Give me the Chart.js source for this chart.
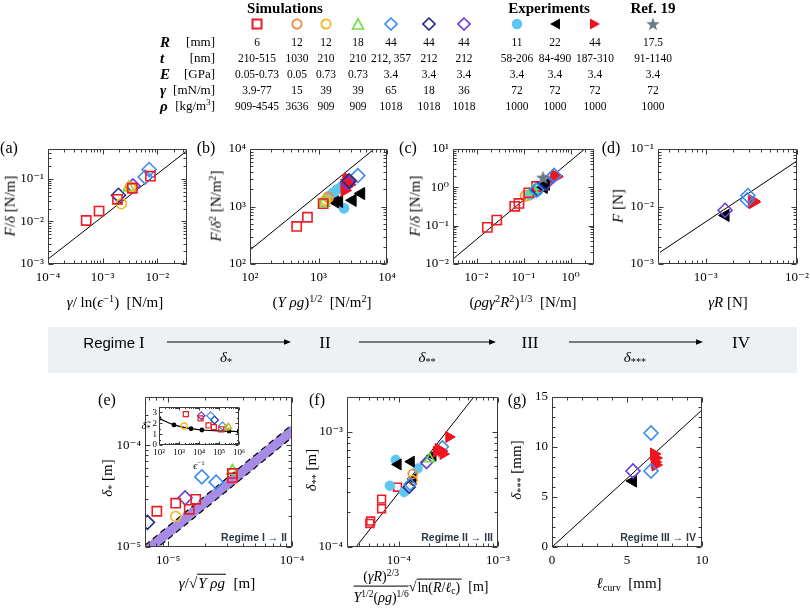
<!DOCTYPE html>
<html><head><meta charset="utf-8">
<script src="https://cdn.jsdelivr.net/npm/chart.js@4.4.1/dist/chart.umd.min.js"></script>
<style>
html,body{margin:0;padding:0;width:810px;height:609px;overflow:hidden;background:#fff;}
#root{position:relative;width:810px;height:609px;overflow:hidden;font-family:'Liberation Serif','DejaVu Serif','Times New Roman',serif;color:#000;}
canvas{position:absolute;left:0;top:0;}
.t{position:absolute;white-space:nowrap;transform:translate(-50%,-50%);line-height:1.1;}
.rot{transform:translate(-50%,-50%) rotate(-90deg);}
.lft{transform:translate(0,-50%);}
.rgt{transform:translate(-100%,-50%);}
.cnd{transform:translate(-50%,-50%) scaleX(0.88);}
sup{font-size:0.68em;vertical-align:0.5em;line-height:0;}
sub{font-size:0.68em;vertical-align:-0.3em;line-height:0;}
#bar{position:absolute;left:48px;top:327px;width:749px;height:46px;background:#eef1f4;}
.reg{position:absolute;font:bold 10.5px 'Liberation Sans',Arial,sans-serif;color:#2c3a48;white-space:nowrap;transform:translate(-100%,-50%);}
.ov{border-top:1px solid #000;padding:0 1px;}
</style></head><body><div id="root"><div id="bar"></div></div>
<script>
// ---------------- DATA ----------------
// table
const tabKeys = ['redSq','orangeC','yellowC','greenT','lblueD','dblueD','purpleD','cyanC','blackT','redT','star'];
const tabR   = ['6','12','12','18','44','44','44','11','22','44','17.5'];
const tabT   = ['210-515','1030','210','210','212, 357','212','212','58-206','84-490','187-310','91-1140'];
const tabE   = ['0.05-0.73','0.05','0.73','0.73','3.4','3.4','3.4','3.4','3.4','3.4','3.4'];
const tabG   = ['3.9-77','15','39','39','65','18','36','72','72','72','72'];
const tabRho = ['909-4545','3636','909','909','1018','1018','1018','1000','1000','1000','1000'];

// (a) F/delta vs gamma/ln(1/eps)
const a_redSq   = [[5e-4,0.0105],[8.6e-4,0.0175],[1.87e-3,0.033],[3.5e-3,0.06],[7.5e-3,0.115]];
const a_yellowC = [[2.2e-3,0.026],[3.2e-3,0.064]];
const a_orangeC = [[3.4e-3,0.062]];
const a_greenT  = [[3.0e-3,0.062]];
const a_dblueD  = [[1.95e-3,0.041]];
const a_purpleD = [[3.6e-3,0.068]];
const a_lblueD  = [[6.0e-3,0.11],[7.1e-3,0.165]];
const a_line    = [[1e-4,1.3e-3],[3.5e-2,0.455]];
const a_xTicks = [1e-4,1e-3,1e-2], a_yTicks = [1e-3,1e-2,1e-1];

// (b) F/delta^2 vs (Y rho g)^1/2
const b_redSq   = [[480,450],[690,650],[1170,1120],[2500,2450]];
const b_yellowC = [[1240,1210],[1280,1300]];
const b_orangeC = [[1390,1440]];
const b_greenT  = [[1200,1150]];
const b_cyanC   = [[1390,1480],[1640,1730],[1890,1980],[2160,2200],[2350,930],[1500,1550]];
const b_blackT  = [[1750,1200],[2000,1220],[3150,1280],[4200,1680]];
const b_redT    = [[2400,1900],[2500,2200],[2600,2600],[2700,3000],[2800,2400],[2900,2800],[2550,2800]];
const b_dblueD  = [[2800,2800]];
const b_purpleD = [[2650,2600]];
const b_lblueD  = [[3750,3450]];
const b_line    = [[100,175],[6500,1e4]];
const b_xTicks = [1e2,1e3,1e4], b_yTicks = [1e2,1e3,1e4];

// (c) F/delta vs (rho g gamma^2 R^2)^1/3
const c_redSq   = [[0.017,0.09],[0.027,0.14],[0.065,0.32],[0.08,0.38],[0.13,0.72],[0.19,1.05]];
const c_orangeC = [[0.11,0.6]];
const c_yellowC = [[0.125,0.62]];
const c_greenT  = [[0.16,0.8]];
const c_cyanC   = [[0.14,0.65],[0.17,0.75],[0.2,0.8]];
const c_lblueD  = [[0.19,0.85],[0.45,2.05]];
const c_dblueD  = [[0.2,0.9]];
const c_purpleD = [[0.3,1.3]];
const c_blackT  = [[0.27,1.0],[0.3,1.2]];
const c_redT    = [[0.45,1.8],[0.5,1.9],[0.48,2.0]];
const c_star    = [[0.26,1.8]];
const c_line    = [[0.00316,0.0135],[2.0,10]];
const c_xTicks = [1e-2,1e-1,1], c_yTicks = [1e-2,1e-1,1,10];

// (d) F vs gamma R
const d_purpleD = [[1.63e-3,8.6e-3]];
const d_blackT  = [[1.65e-3,7.0e-3]];
const d_lblueD  = [[2.9e-3,0.0155],[2.85e-3,0.013]];
const d_redT    = [[3.2e-3,0.012],[3.3e-3,0.0125],[3.25e-3,0.0117],[3.35e-3,0.012]];
const d_line    = [[3.16e-4,1.6e-3],[1e-2,0.062]];
const d_xTicks = [1e-3,1e-2], d_yTicks = [1e-3,1e-2,1e-1];

// (e) delta_* vs gamma/sqrt(Y rho g)
const e_dblueD  = [[6.8e-6,1.75e-5]];
const e_redSq   = [[8.1e-6,2.25e-5],[1.15e-5,2.7e-5],[1.48e-5,2.35e-5],[1.67e-5,2.95e-5],[3.3e-5,4.8e-5],[3.3e-5,5.3e-5]];
const e_yellowC = [[1.15e-5,2.0e-5]];
const e_purpleD = [[1.37e-5,3.05e-5]];
const e_lblueD  = [[1.87e-5,4.9e-5],[2.44e-5,4.35e-5]];
const e_greenT  = [[3.3e-5,5.6e-5]];
const e_bandHi  = [[6.5e-6,1.04e-5],[1e-4,1.6e-4]];
const e_bandLo  = [[6.5e-6,7.8e-6],[1e-4,1.2e-4]];
const e_xTicks = [1e-5,1e-4], e_yTicks = [1e-5,1e-4];

// (e) inset: rescaled delta_* vs 1/eps
const i_curve   = [[1e2,2.45],[5.6e2,1.85],[4e3,1.5],[1.4e4,1.38],[3.2e5,1.27],[1e6,1.22]];
const i_redSq   = [[2.2e3,2.85],[1.2e4,2.45],[3e4,1.8],[5.5e4,1.65],[1.3e5,1.45]];
const i_yellowC = [[1.8e3,1.75],[2.7e5,1.65]];
const i_purpleD = [[1.3e4,2.7]];
const i_lblueD  = [[3.8e4,2.7],[1.5e5,1.75]];
const i_dblueD  = [[6e4,2.3]];
const i_greenT  = [[3e5,1.7]];
const i_xTicks = [1e2,1e3,1e4,1e5,1e6], i_yTicks = [0,1,2,3];

// (f) delta_** vs scaling
const f_redSq   = [[5.1e-5,1.6e-4],[5.2e-5,1.68e-4],[6.7e-5,2.15e-4],[6.7e-5,2.6e-4],[9.7e-5,3.3e-4]];
const f_cyanC   = [[8.1e-5,3.4e-4],[9.3e-5,5.7e-4],[1.13e-4,3.0e-4],[1.55e-4,4.8e-4]];
const f_blackT  = [[9.8e-5,5.2e-4],[1.33e-4,5.5e-4],[2.2e-4,6.2e-4],[1.4e-4,3.9e-4]];
const f_orangeC = [[1.38e-4,4.3e-4]];
const f_yellowC = [[1.38e-4,3.8e-4]];
const f_dblueD  = [[1.27e-4,3.3e-4]];
const f_lblueD  = [[1.3e-4,3.5e-4],[2.75e-4,7.4e-4]];
const f_purpleD = [[1.9e-4,5.4e-4]];
const f_greenT  = [[2.05e-4,5.8e-4]];
const f_redT    = [[2.4e-4,6.7e-4],[2.7e-4,6.8e-4],[3.2e-4,9.0e-4],[2.8e-4,6.4e-4],[2.5e-4,7.1e-4]];
const f_line    = [[3.7e-5,1e-4],[5.7e-4,2e-3]];
const f_xTicks = [1e-4,1e-3], f_yTicks = [1e-4,1e-3];

// (g) delta_*** vs l_curv (mm)
const g_lblueD  = [[6.6,11.4],[6.6,7.6]];
const g_purpleD = [[5.4,7.6]];
const g_blackT  = [[5.4,6.6]];
const g_redT    = [[6.8,9.3],[6.9,8.9],[6.85,8.5],[6.9,8.2]];
const g_line    = [[0,0],[10,13.7]];
const g_xTicks = [0,5,10], g_yTicks = [0,5,10,15];

// ---------------- STYLE ----------------
const SERIF = "'Liberation Serif','DejaVu Serif','Times New Roman',serif";
const COL = {redSq:'#ee1c24',orangeC:'#f5883a',yellowC:'#f5b720',greenT:'#6fe03c',lblueD:'#3b8cf0',
  dblueD:'#1e2b8f',purpleD:'#6a3ed6',cyanC:'#5cc8f2',blackT:'#000000',redT:'#f0141e',star:'#6b7b85'};
function starCanvas(size,color){const c=document.createElement('canvas');c.width=c.height=size;const x=c.getContext('2d');
  x.fillStyle=color;x.beginPath();for(let i=0;i<10;i++){const r=i%2?size*0.21:size*0.5;const a=-Math.PI/2+i*Math.PI/5;
  x.lineTo(size/2+r*Math.cos(a),size/2+r*Math.sin(a)+size*0.04);}x.closePath();x.fill();return c;}
const STY = {
  redSq:{ps:'rect',r:6.5,fill:false},orangeC:{ps:'circle',r:5,fill:false},yellowC:{ps:'circle',r:5,fill:false},
  greenT:{ps:'triangle',r:6.5,fill:false},lblueD:{ps:'rectRot',r:7,fill:false},dblueD:{ps:'rectRot',r:7,fill:false},
  purpleD:{ps:'rectRot',r:7,fill:false},cyanC:{ps:'circle',r:5,fill:true},blackT:{ps:'triangle',r:7,rot:-90,fill:true},
  redT:{ps:'triangle',r:7,rot:90,fill:true},star:{ps:'star',r:7,fill:true}};
const STAR13 = starCanvas(15,COL.star);

function P(key,pts,mul){mul=mul||1;const s=STY[key];const c=COL[key];
  return {label:key,data:pts.map(p=>({x:p[0],y:p[1]})),showLine:false,order:1,
    pointStyle:key==='star'?STAR13:s.ps,pointRotation:s.rot||0,pointRadius:s.r*mul,
    pointBorderColor:c,borderColor:c,pointBackgroundColor:s.fill?c:'rgba(0,0,0,0)',backgroundColor:s.fill?c:'rgba(0,0,0,0)',
    pointBorderWidth:s.fill?1:1.6*Math.min(1,mul+0.2)};}
function L(pts,extra){return Object.assign({type:'line',data:pts.map(p=>({x:p[0],y:p[1]})),pointRadius:0,borderColor:'#000',
  borderWidth:1,fill:false,tension:0,order:10},extra||{});}

// ---------------- HELPERS ----------------
const root=document.getElementById('root');
const CW=860,CH=660;
const SUPS={'-':'⁻','0':'⁰','1':'¹','2':'²','3':'³','4':'⁴','5':'⁵','6':'⁶','7':'⁷','8':'⁸','9':'⁹'};
function p10(v){const e=Math.round(Math.log10(v));return '10'+String(e).split('').map(ch=>SUPS[ch]).join('');}
function logMinors(min,max){const o=[];for(let e=Math.floor(Math.log10(min))-1;e<=Math.ceil(Math.log10(max));e++)
  for(let k=2;k<=9;k++){const v=k*Math.pow(10,e);if(v>min*1.0001&&v<max*0.9999)o.push(v);}return o;}
function linMinors(min,max,step,maj){const o=[];for(let v=min;v<=max+1e-9;v+=step){if(Math.abs(v/maj-Math.round(v/maj))>1e-6)o.push(v);}return o;}
const FR={};
Chart.register({id:'frame',afterDraw(chart){const o=FR[chart.canvas.id];if(!o)return;
  const ctx=chart.ctx,a=chart.chartArea,x=chart.scales.x,y=chart.scales.y;
  ctx.save();ctx.strokeStyle='#3a3a3a';ctx.lineWidth=1;
  const Lx=Math.round(a.left)+0.5,Rx=Math.round(a.right)-0.5,T=Math.round(a.top)+0.5,B=Math.round(a.bottom)-0.5;
  ctx.beginPath();
  const tx=(v,len)=>{const p=Math.round(x.getPixelForValue(v))+0.5;ctx.moveTo(p,B);ctx.lineTo(p,B-len);ctx.moveTo(p,T);ctx.lineTo(p,T+len);};
  const ty=(v,len)=>{const p=Math.round(y.getPixelForValue(v))+0.5;ctx.moveTo(Lx,p);ctx.lineTo(Lx+len,p);ctx.moveTo(Rx,p);ctx.lineTo(Rx-len,p);};
  o.xMaj.forEach(v=>tx(v,o.maj));o.xMin.forEach(v=>tx(v,o.min));o.yMaj.forEach(v=>ty(v,o.maj));o.yMin.forEach(v=>ty(v,o.min));
  ctx.rect(Lx,T,Rx-Lx,B-T);ctx.stroke();ctx.restore();}});

let cid=0;
function panel(cfg){
  const cv=document.createElement('canvas');cv.id='cv'+(cid++);cv.width=CW;cv.height=CH;
  cv.style.width=CW+'px';cv.style.height=CH+'px';root.appendChild(cv);
  const YW=cfg.yw||40,XH=cfg.xh||30,fs=cfg.fs||13;
  const fmtOf=(ax)=>ax.type==='logarithmic'?(v=>p10(v)):(v=>String(v));
  const mkAxis=(ax,isY)=>({type:ax.type,min:ax.min,max:ax.max,position:isY?'left':'bottom',
    grid:{display:false,drawTicks:false},border:{display:false},
    ticks:{autoSkip:false,maxRotation:0,minRotation:0,padding:isY?(cfg.ypad||4):(cfg.xpad||6),color:'#000',
      font:{family:SERIF,size:fs},callback:fmtOf(ax)},
    afterBuildTicks:(s)=>{s.ticks=ax.ticks.map(v=>({value:v}));},
    afterFit:(s)=>{if(isY)s.width=YW;else s.height=XH;}});
  const xm=cfg.x.type==='logarithmic'?logMinors(cfg.x.min,cfg.x.max):linMinors(cfg.x.min,cfg.x.max,cfg.x.step,cfg.x.maj);
  const ym=cfg.y.type==='logarithmic'?logMinors(cfg.y.min,cfg.y.max):linMinors(cfg.y.min,cfg.y.max,cfg.y.step,cfg.y.maj);
  FR[cv.id]={xMaj:cfg.x.ticks,yMaj:cfg.y.ticks,xMin:xm,yMin:ym,maj:cfg.tmaj||5,min:cfg.tmin||3};
  new Chart(cv,{type:'scatter',data:{datasets:cfg.datasets},options:{responsive:false,animation:false,devicePixelRatio:1,events:[],
    layout:{autoPadding:false,padding:{left:cfg.l-YW,top:cfg.t,right:CW-cfg.r,bottom:CH-cfg.b-XH}},
    plugins:{legend:{display:false},tooltip:{enabled:false}},
    scales:{x:mkAxis(cfg.x,false),y:mkAxis(cfg.y,true)}}});
}
function T(x,y,html,style,cls){const d=document.createElement('div');d.className='t'+(cls?' '+cls:'');
  d.style.left=x+'px';d.style.top=y+'px';if(style)d.style.cssText+=';'+style;d.innerHTML=html;root.appendChild(d);return d;}

// ---------------- PANELS ----------------
const LG='logarithmic',LN='linear';
panel({l:48,r:187,t:149,b:264,x:{type:LG,min:1e-4,max:3.5e-2,ticks:a_xTicks},y:{type:LG,min:1e-3,max:0.5,ticks:a_yTicks},
  datasets:[P('redSq',a_redSq),P('yellowC',a_yellowC),P('orangeC',a_orangeC),P('greenT',a_greenT),P('dblueD',a_dblueD),
    P('purpleD',a_purpleD),P('lblueD',a_lblueD),L(a_line)]});
panel({l:250,r:387,t:149,b:264,x:{type:LG,min:1e2,max:1e4,ticks:b_xTicks},y:{type:LG,min:1e2,max:1e4,ticks:b_yTicks},
  datasets:[P('dblueD',b_dblueD),P('purpleD',b_purpleD),P('lblueD',b_lblueD),P('redSq',b_redSq),P('greenT',b_greenT),
    P('yellowC',b_yellowC),P('orangeC',b_orangeC),P('redT',b_redT),P('blackT',b_blackT),P('cyanC',b_cyanC),L(b_line)]});
panel({l:453,r:594,t:149,b:264,x:{type:LG,min:Math.pow(10,-2.5),max:Math.pow(10,0.5),ticks:c_xTicks},
  y:{type:LG,min:1e-2,max:10,ticks:c_yTicks},
  datasets:[P('star',c_star),P('lblueD',c_lblueD),P('dblueD',c_dblueD),P('purpleD',c_purpleD),P('blackT',c_blackT),
    P('redT',c_redT),P('greenT',c_greenT),P('redSq',c_redSq),P('cyanC',c_cyanC),P('yellowC',c_yellowC),P('orangeC',c_orangeC),L(c_line)]});
panel({l:658,r:797,t:149,b:264,x:{type:LG,min:Math.pow(10,-3.5),max:1e-2,ticks:d_xTicks},y:{type:LG,min:1e-3,max:1e-1,ticks:d_yTicks},
  datasets:[P('purpleD',d_purpleD),P('lblueD',d_lblueD),P('redT',d_redT),P('blackT',d_blackT),L(d_line)]});
panel({l:145,r:292,t:397,b:547,x:{type:LG,min:6.5e-6,max:1e-4,ticks:e_xTicks},y:{type:LG,min:1e-5,max:3e-4,ticks:e_yTicks},
  datasets:[P('dblueD',e_dblueD),P('redSq',e_redSq),P('yellowC',e_yellowC),P('purpleD',e_purpleD),P('lblueD',e_lblueD),P('greenT',e_greenT),
    L(e_bandHi,{borderDash:[6,4],borderWidth:1.2,order:20}),
    L(e_bandLo,{borderDash:[6,4],borderWidth:1.2,order:20,fill:{target:6},backgroundColor:'rgba(160,130,228,0.92)'})]});
panel({l:159,r:239,t:407,b:445,yw:12,xh:14,fs:9,ypad:2,xpad:2,tmaj:3,tmin:1.5,
  x:{type:LG,min:1e2,max:1e6,ticks:i_xTicks},y:{type:LN,min:0,max:3.5,ticks:i_yTicks,step:0.5,maj:1},
  datasets:[P('redSq',i_redSq,0.55),P('yellowC',i_yellowC,0.6),P('purpleD',i_purpleD,0.55),P('lblueD',i_lblueD,0.55),
    P('dblueD',i_dblueD,0.55),P('greenT',i_greenT,0.55),
    L(i_curve,{pointRadius:1.8,pointBackgroundColor:'#000',pointBorderColor:'#000',tension:0.35,borderWidth:1.2})]});
panel({l:347,r:498,t:397,b:547,x:{type:LG,min:3e-5,max:1e-3,ticks:f_xTicks},y:{type:LG,min:1e-4,max:2e-3,ticks:f_yTicks},
  datasets:[P('redT',f_redT,0.9),P('greenT',f_greenT,0.85),P('purpleD',f_purpleD,0.85),P('lblueD',f_lblueD,0.85),P('dblueD',f_dblueD,0.85),
    P('orangeC',f_orangeC,0.9),P('yellowC',f_yellowC,0.9),P('blackT',f_blackT,0.9),P('cyanC',f_cyanC,0.95),P('redSq',f_redSq,0.85),L(f_line)]});
panel({l:552,r:702,t:397,b:547,x:{type:LN,min:0,max:10,ticks:g_xTicks,step:1,maj:5},y:{type:LN,min:0,max:15,ticks:g_yTicks,step:1,maj:5},
  datasets:[P('lblueD',g_lblueD),P('purpleD',g_purpleD),P('blackT',g_blackT),P('redT',g_redT),L(g_line)]});

// ---------------- TEXT ----------------
// table
const colX=[257,297,326,358,391,429,464,517,555,595,653];
T(285,8,'Simulations','font-weight:bold;font-size:15px');
T(549,8,'Experiments','font-weight:bold;font-size:15px');
T(653,8,'Ref. 19','font-weight:bold;font-size:15px');
function markerSVG(k){const c=COL[k];let s='';
  if(k==='redSq')s=`<rect x="2.5" y="2.5" width="9" height="9" fill="none" stroke="${c}" stroke-width="2"/>`;
  else if(k==='orangeC'||k==='yellowC')s=`<circle cx="7" cy="7" r="4.6" fill="none" stroke="${c}" stroke-width="1.8"/>`;
  else if(k==='greenT')s=`<polygon points="7,1.8 12.5,12 1.5,12" fill="none" stroke="${c}" stroke-width="1.6"/>`;
  else if(k.endsWith('D'))s=`<polygon points="7,1 13,7 7,13 1,7" fill="none" stroke="${c}" stroke-width="1.6"/>`;
  else if(k==='cyanC')s=`<circle cx="7" cy="7" r="5.3" fill="${c}"/>`;
  else if(k==='blackT')s=`<polygon points="2,7 12,1.5 12,12.5" fill="${c}"/>`;
  else if(k==='redT')s=`<polygon points="12,7 2,1.5 2,12.5" fill="${c}"/>`;
  else {let p=[];for(let i=0;i<10;i++){const r=i%2?2.9:7;const a=-Math.PI/2+i*Math.PI/5;p.push((7+r*Math.cos(a)).toFixed(2)+','+(7.5+r*Math.sin(a)).toFixed(2));}
    s=`<polygon points="${p.join(' ')}" fill="${c}"/>`;}
  return `<svg width="14" height="14" viewBox="0 0 14 14" style="display:block">${s}</svg>`;}
tabKeys.forEach((k,i)=>T(colX[i],24,markerSVG(k)));
const rows=[[42,'R','[mm]',tabR],[58,'t','[nm]',tabT],[74,'E','[GPa]',tabE],[90,'γ','[mN/m]',tabG],[106,'ρ','[kg/m<sup>3</sup>]',tabRho]];
rows.forEach(([y,sym,unit,vals])=>{
  T(160,y,'<b><i>'+sym+'</i></b>','font-size:15px','lft');
  T(215,y,unit,'font-size:13px','rgt');
  vals.forEach((v,i)=>T(colX[i],y,v,'font-size:13px','cnd'));
});
// panel letters
[['(a)',9,148],['(b)',206,148],['(c)',408,148],['(d)',611,148],['(e)',107,400],['(f)',317,400],['(g)',517,400]]
  .forEach(([s,x,y])=>T(x,y,s,'font-size:16px'));
// axis titles
const AT='font-size:15px';
T(115,302,'<i>γ</i>/ ln(<i>ϵ</i><sup>−1</sup>) &nbsp;[N/m]',AT);
T(10,206,'<i>F</i>/<i>δ</i> [N/m]',AT,'rot');
T(322,302,'(<i>Y ρg</i>)<sup>1/2</sup> &nbsp;[N/m<sup>2</sup>]',AT);
T(216,206,'<i>F</i>/<i>δ</i><sup>2</sup> [N/m<sup>2</sup>]',AT,'rot');
T(523,302,'(<i>ρgγ</i><sup>2</sup><i>R</i><sup>2</sup>)<sup>1/3</sup> &nbsp;[N/m]',AT);
T(415,206,'<i>F</i>/<i>δ</i> [N/m]',AT,'rot');
T(728,302,'<i>γR</i> [N]',AT);
T(618,206,'<i>F</i> [N]',AT,'rot');
T(217,583,'<i>γ</i>/√<span class="ov"><i>Y ρg</i></span> &nbsp;[m]',AT);
T(107,478,'<i>δ</i><sub>*</sub> [m]',AT,'rot');
T(311,470,'<i>δ</i><sub>**</sub> [m]',AT,'rot');
T(516,470,'<i>δ</i><sub>***</sub> [mm]',AT,'rot');
T(629,583,'<i>ℓ</i><sub>curv</sub> &nbsp;[mm]',AT);
T(421,587,'<span style="display:inline-block;vertical-align:middle;text-align:center;font-size:14px">'+
  '<span style="display:block;padding:0 2px 2px;border-bottom:1px solid #000">(<i>γR</i>)<sup>2/3</sup></span>'+
  '<span style="display:block;padding-top:3px"><i>Y</i><sup>1/2</sup>(<i>ρg</i>)<sup>1/6</sup></span></span>'+
  '<span style="vertical-align:middle;font-size:14px">√<span class="ov">ln(<i>R</i>/<i>ℓ</i><sub>c</sub>)</span> &nbsp;[m]</span>','');
// inset titles
T(199,465,'<i>ϵ</i><sup>−1</sup>','font-size:10px');
T(146,425,'<i>δ̃</i><sub>*</sub>','font-size:11px');
// regime notes in panels
[['Regime I → II',287,537],['Regime II → III',493,537],['Regime III → IV',696,537]].forEach(([s,x,y])=>{
  const d=document.createElement('div');d.className='reg';d.style.left=x+'px';d.style.top=y+'px';d.textContent=s;root.appendChild(d);});
// regime bar
T(114,343,'<span style="font-family:\'Liberation Sans\',Arial,sans-serif;font-size:15px">Regime</span> <span style="font-size:17px">I</span>','');
T(325,343,'II','font-size:17px');T(530,343,'III','font-size:17px');T(741,343,'IV','font-size:17px');
T(226,357,'<i>δ</i><sub>*</sub>','font-size:15px');T(427,357,'<i>δ</i><sub>**</sub>','font-size:15px');T(635,357,'<i>δ</i><sub>***</sub>','font-size:15px');
const svgNS='http://www.w3.org/2000/svg';
const sv=document.createElementNS(svgNS,'svg');sv.setAttribute('width','810');sv.setAttribute('height','609');
sv.style.cssText='position:absolute;left:0;top:0;pointer-events:none';
[[167,291],[359,496],[569,703]].forEach(([x0,x1])=>{
  const ln=document.createElementNS(svgNS,'line');ln.setAttribute('x1',x0);ln.setAttribute('x2',x1-5);ln.setAttribute('y1',342);ln.setAttribute('y2',342);
  ln.setAttribute('stroke','#000');ln.setAttribute('stroke-width','1');sv.appendChild(ln);
  const hd=document.createElementNS(svgNS,'polygon');hd.setAttribute('points',`${x1},342 ${x1-7},339.3 ${x1-7},344.7`);hd.setAttribute('fill','#000');sv.appendChild(hd);});
root.appendChild(sv);
</script>
</body></html>
